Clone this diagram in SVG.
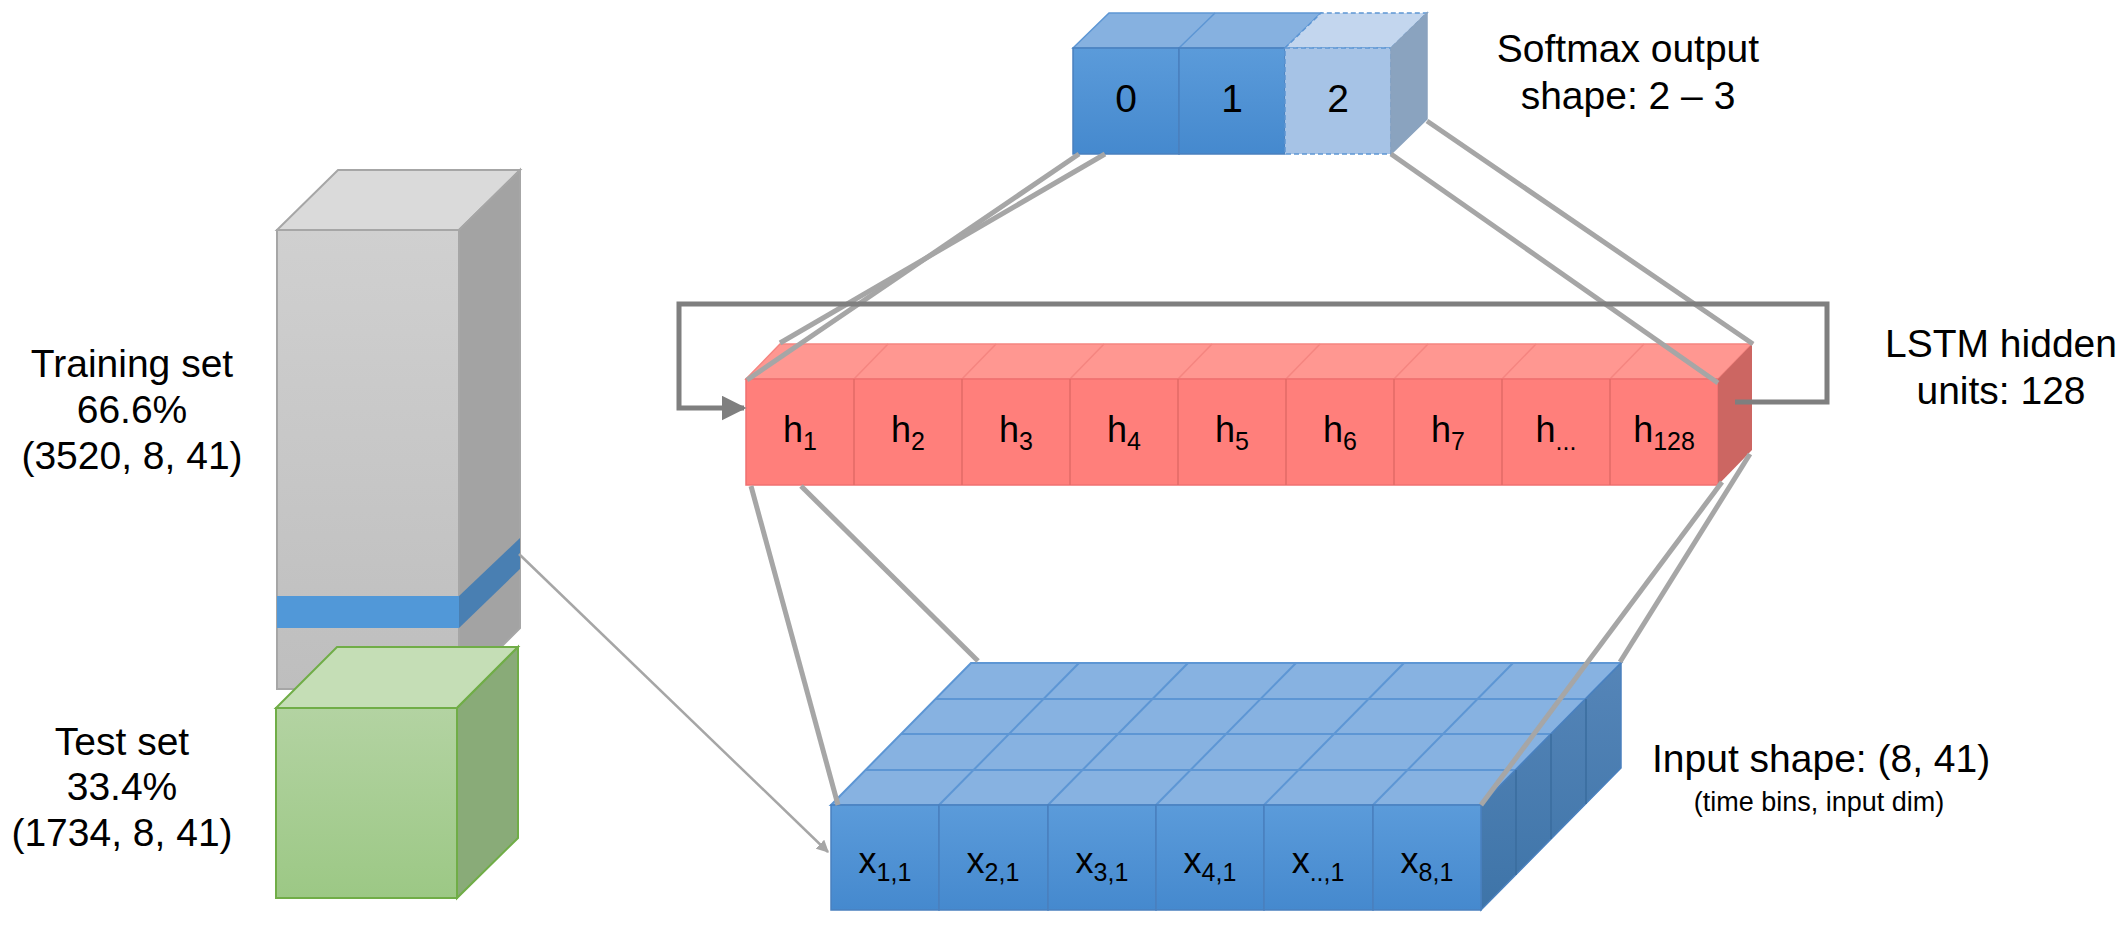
<svg xmlns="http://www.w3.org/2000/svg" width="2118" height="925" viewBox="0 0 2118 925">
<defs>
<linearGradient id="gGray" x1="0" y1="0" x2="0" y2="1"><stop offset="0" stop-color="#D0D0D0"/><stop offset="1" stop-color="#BEBEBE"/></linearGradient>
<linearGradient id="gGreen" x1="0" y1="0" x2="0" y2="1"><stop offset="0" stop-color="#B3D3A2"/><stop offset="1" stop-color="#9CC885"/></linearGradient>
<linearGradient id="gBlue" x1="0" y1="0" x2="0" y2="1"><stop offset="0" stop-color="#5B9BDA"/><stop offset="1" stop-color="#4589CE"/></linearGradient>
<linearGradient id="gBlueSide" x1="0" y1="0" x2="0" y2="1"><stop offset="0" stop-color="#5585B8"/><stop offset="1" stop-color="#3E74A8"/></linearGradient>
<marker id="ah" viewBox="0 0 10 10" refX="9" refY="5" markerWidth="5" markerHeight="5" orient="auto" markerUnits="strokeWidth"><path d="M0,0 L10,5 L0,10 z" fill="#A6A6A6"/></marker>
<marker id="ahd" viewBox="0 0 10 10" refX="9" refY="5" markerWidth="5" markerHeight="5" orient="auto" markerUnits="strokeWidth"><path d="M0,0 L10,5 L0,10 z" fill="#7F7F7F"/></marker>
</defs>
<style>
text{font-family:"Liberation Sans",Arial,sans-serif;fill:#000}
.lbl{font-size:39px;text-anchor:middle}
.cell{font-size:36px;text-anchor:middle}
.sub{font-size:25px}
.conn{stroke:#A6A6A6;stroke-width:5;fill:none}
.red{fill:#FF7F7B;stroke:#F07070;stroke-width:1.5}
.redt{fill:#FF9791;stroke:#F58580;stroke-width:1.5}
.bl{fill:url(#gBlue);stroke:#4A80BE;stroke-width:1.5}
.blt{fill:#87B2E1;stroke:#5D96D4;stroke-width:2}
</style>

<g id="training-set">
<polygon points="277,230 338,170 520,170 459,230" fill="#DADADA" stroke="#A6A6A6" stroke-width="2"/>
<polygon points="459,230 520,170 520,628 459,689" fill="#A3A3A3" stroke="#A6A6A6" stroke-width="2"/>
<rect x="277" y="230" width="182" height="459" fill="url(#gGray)" stroke="#A6A6A6" stroke-width="2"/>
<rect x="277" y="596" width="182" height="32" fill="#5198D8"/>
<polygon points="459,596 520,538 520,569 459,628" fill="#497FB2"/>
<text class="lbl" x="132" y="377">Training set</text>
<text class="lbl" x="132" y="423">66.6%</text>
<text class="lbl" x="132" y="469">(3520, 8, 41)</text>
</g>

<g id="test-set">
<polygon points="276,708 337,647 518,647 457,708" fill="#C5DEB6" stroke="#70AD47" stroke-width="2"/>
<polygon points="457,708 518,647 518,838 457,898" fill="#89AB78" stroke="#70AD47" stroke-width="2"/>
<rect x="276" y="708" width="181" height="190" fill="url(#gGreen)" stroke="#70AD47" stroke-width="2"/>
<text class="lbl" x="122" y="755">Test set</text>
<text class="lbl" x="122" y="800">33.4%</text>
<text class="lbl" x="122" y="846">(1734, 8, 41)</text>
</g>

<g id="softmax">
<polygon points="1073,48 1109,13 1321,13 1285,48" fill="#86B1E0" stroke="#5D96D4" stroke-width="1.5"/>
<line x1="1179" y1="48" x2="1215" y2="13" stroke="#5D96D4" stroke-width="1.5"/>
<rect x="1073" y="48" width="106" height="106" class="bl"/>
<rect x="1179" y="48" width="106" height="106" class="bl"/>
<polygon points="1285,48 1321,13 1427,13 1391,48" fill="#C3D6EE" stroke="#5D96D4" stroke-width="1.5" stroke-dasharray="5,3"/>
<rect x="1285" y="48" width="106" height="106" fill="#A6C3E6" stroke="#5D96D4" stroke-width="1.5" stroke-dasharray="5,3"/>
<polygon points="1391,48 1427,13 1427,119 1391,154" fill="#8AA3BF" stroke="#8AA3BF" stroke-width="1.5"/>
<text class="lbl" x="1126" y="112">0</text>
<text class="lbl" x="1232" y="112">1</text>
<text class="lbl" x="1338" y="112">2</text>
<text class="lbl" x="1628" y="62">Softmax output</text>
<text class="lbl" x="1628" y="109">shape: 2 – 3</text>
</g>

<g id="lstm">
<polygon points="746,379 780,344 1752,344 1718,379" class="redt"/>
<g stroke="#F58580" stroke-width="1.5">
<line x1="854" y1="379" x2="888" y2="344"/><line x1="962" y1="379" x2="996" y2="344"/><line x1="1070" y1="379" x2="1104" y2="344"/><line x1="1178" y1="379" x2="1212" y2="344"/><line x1="1286" y1="379" x2="1320" y2="344"/><line x1="1394" y1="379" x2="1428" y2="344"/><line x1="1502" y1="379" x2="1536" y2="344"/><line x1="1610" y1="379" x2="1644" y2="344"/>
</g>
<rect x="746" y="379" width="972" height="106" class="red"/>
<g stroke="#E26A66" stroke-width="1.5">
<line x1="854" y1="379" x2="854" y2="485"/><line x1="962" y1="379" x2="962" y2="485"/><line x1="1070" y1="379" x2="1070" y2="485"/><line x1="1178" y1="379" x2="1178" y2="485"/><line x1="1286" y1="379" x2="1286" y2="485"/><line x1="1394" y1="379" x2="1394" y2="485"/><line x1="1502" y1="379" x2="1502" y2="485"/><line x1="1610" y1="379" x2="1610" y2="485"/>
</g>
<polygon points="1718,379 1752,344 1752,450 1718,485" fill="#CC6662"/>
<text class="cell" x="800" y="442">h<tspan class="sub" dy="8">1</tspan></text>
<text class="cell" x="908" y="442">h<tspan class="sub" dy="8">2</tspan></text>
<text class="cell" x="1016" y="442">h<tspan class="sub" dy="8">3</tspan></text>
<text class="cell" x="1124" y="442">h<tspan class="sub" dy="8">4</tspan></text>
<text class="cell" x="1232" y="442">h<tspan class="sub" dy="8">5</tspan></text>
<text class="cell" x="1340" y="442">h<tspan class="sub" dy="8">6</tspan></text>
<text class="cell" x="1448" y="442">h<tspan class="sub" dy="8">7</tspan></text>
<text class="cell" x="1556" y="442">h<tspan class="sub" dy="8">...</tspan></text>
<text class="cell" x="1664" y="442">h<tspan class="sub" dy="8">128</tspan></text>
<text class="lbl" x="2001" y="357">LSTM hidden</text>
<text class="lbl" x="2001" y="404">units: 128</text>
</g>

<g id="input">
<polygon points="831,805 971,663 1621,663 1481,805" class="blt"/>
<g stroke="#5D96D4" stroke-width="2">
<line x1="866" y1="770" x2="1516" y2="770"/><line x1="901" y1="734" x2="1551" y2="734"/><line x1="936" y1="699" x2="1586" y2="699"/>
<line x1="939" y1="805" x2="1079" y2="663"/><line x1="1048" y1="805" x2="1188" y2="663"/><line x1="1156" y1="805" x2="1296" y2="663"/><line x1="1264" y1="805" x2="1404" y2="663"/><line x1="1373" y1="805" x2="1513" y2="663"/>
</g>
<polygon points="1481,805 1621,663 1621,768 1481,910" fill="url(#gBlueSide)" stroke="#4A80BE" stroke-width="1.5"/>
<g stroke="#3A6C9E" stroke-width="1.5">
<line x1="1516" y1="770" x2="1516" y2="875"/><line x1="1551" y1="734" x2="1551" y2="839"/><line x1="1586" y1="699" x2="1586" y2="804"/>
</g>
<rect x="831" y="805" width="108" height="105" class="bl"/>
<rect x="939" y="805" width="109" height="105" class="bl"/>
<rect x="1048" y="805" width="108" height="105" class="bl"/>
<rect x="1156" y="805" width="108" height="105" class="bl"/>
<rect x="1264" y="805" width="109" height="105" class="bl"/>
<rect x="1373" y="805" width="108" height="105" class="bl"/>
<text class="cell" x="885" y="873">x<tspan class="sub" dy="8">1,1</tspan></text>
<text class="cell" x="993" y="873">x<tspan class="sub" dy="8">2,1</tspan></text>
<text class="cell" x="1102" y="873">x<tspan class="sub" dy="8">3,1</tspan></text>
<text class="cell" x="1210" y="873">x<tspan class="sub" dy="8">4,1</tspan></text>
<text class="cell" x="1318" y="873">x<tspan class="sub" dy="8">..,1</tspan></text>
<text class="cell" x="1427" y="873">x<tspan class="sub" dy="8">8,1</tspan></text>
<text x="1652" y="772" font-size="39">Input shape: (8, 41)</text>
<text x="1819" y="811" font-size="27" text-anchor="middle">(time bins, input dim)</text>
</g>

<g id="connectors">
<line class="conn" x1="1079" y1="154" x2="747" y2="380"/>
<line class="conn" x1="1105" y1="154" x2="780" y2="343"/>
<line class="conn" x1="1391" y1="154" x2="1718" y2="383"/>
<line class="conn" x1="1427" y1="121" x2="1753" y2="344"/>
<line class="conn" x1="751" y1="486" x2="838" y2="805"/>
<line class="conn" x1="801" y1="486" x2="978" y2="661"/>
<line class="conn" x1="1750" y1="454" x2="1620" y2="662"/>
<line class="conn" x1="1722" y1="482" x2="1481" y2="805"/>
<polyline points="1735,402 1827,402 1827,304 679,304 679,408 744,408" fill="none" stroke="#7F7F7F" stroke-width="5" marker-end="url(#ahd)"/>
<line x1="519" y1="554" x2="828" y2="852" stroke="#A6A6A6" stroke-width="2.5" marker-end="url(#ah)"/>
</g>
</svg>
